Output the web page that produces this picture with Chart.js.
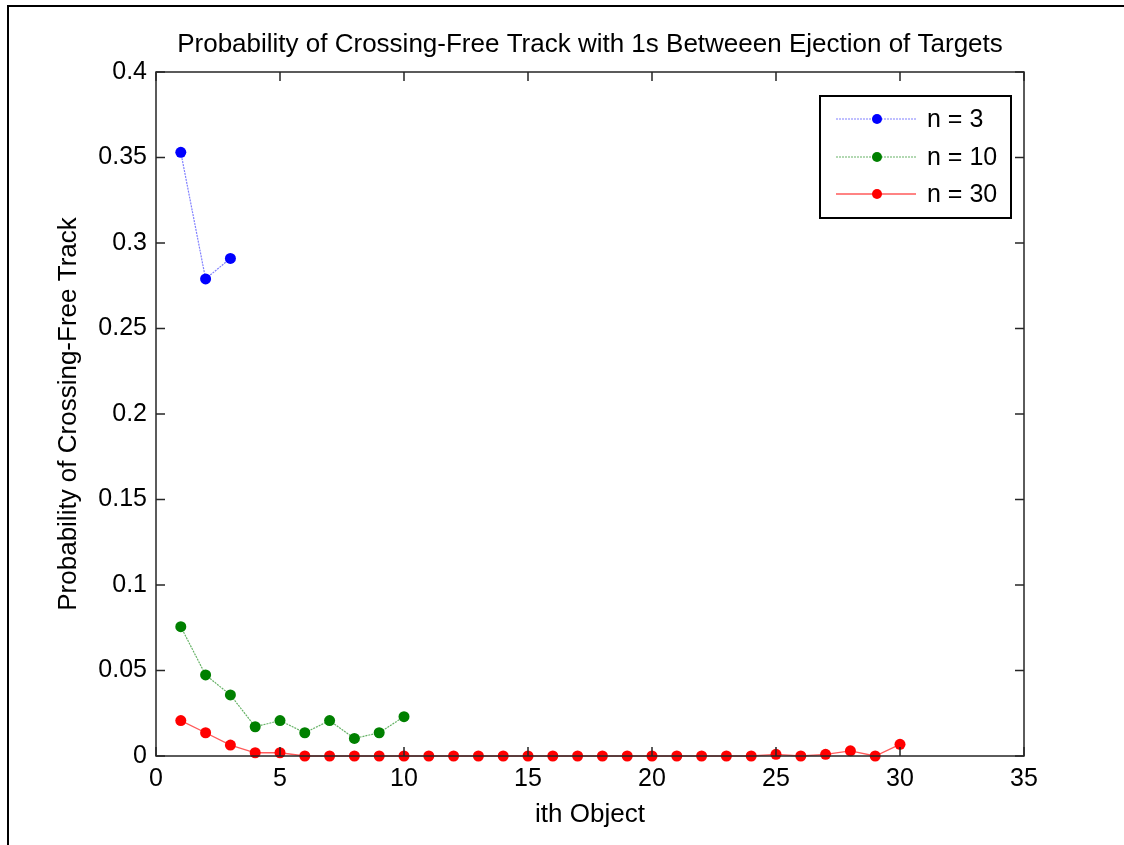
<!DOCTYPE html>
<html>
<head>
<meta charset="utf-8">
<script src="https://cdn.jsdelivr.net/npm/chart.js@4.4.1/dist/chart.umd.min.js"></script>
<style>
  html, body { margin: 0; padding: 0; background: #fff; }
  canvas { display: block; }
</style>
</head>
<body>
<canvas id="c" width="1124" height="845"></canvas>
<script>
// ---- data ----
const chartTitle = 'Probability of Crossing-Free Track with 1s Betweeen Ejection of Targets';
const xTitle = 'ith Object';
const yTitle = 'Probability of Crossing-Free Track';
const seriesLabels = ['n = 3', 'n = 10', 'n = 30'];
const xN3 = [1, 2, 3];
const yN3 = [0.353, 0.279, 0.291];
const xN10 = [1, 2, 3, 4, 5, 6, 7, 8, 9, 10];
const yN10 = [0.0756, 0.0474, 0.0357, 0.0171, 0.0207, 0.0136, 0.0207, 0.0103, 0.0136, 0.0230];
const xN30 = [1, 2, 3, 4, 5, 6, 7, 8, 9, 10, 11, 12, 13, 14, 15, 16, 17, 18, 19, 20, 21, 22, 23, 24, 25, 26, 27, 28, 29, 30];
const yN30 = [0.0207, 0.0136, 0.0064, 0.0019, 0.0019, 0, 0, 0, 0, 0, 0, 0, 0, 0, 0, 0, 0, 0, 0, 0, 0, 0, 0, 0, 0.001, 0, 0.001, 0.003, 0, 0.0068];
const xTickLabels = ['0', '5', '10', '15', '20', '25', '30', '35'];
const yTickLabels = ['0', '0.05', '0.1', '0.15', '0.2', '0.25', '0.3', '0.35', '0.4'];

const FONT = 'Liberation Sans, Arial, sans-serif';
const toPts = (xs, ys) => xs.map((x, i) => ({ x: x, y: ys[i] }));

const frameAndDecor = {
  id: 'frameAndDecor',
  afterDraw(chart) {
    const ctx = chart.ctx;
    const a = chart.chartArea;
    const sx = chart.scales.x, sy = chart.scales.y;
    ctx.save();
    // outer figure frame (top + left)
    ctx.strokeStyle = '#000';
    ctx.lineWidth = 2;
    ctx.beginPath();
    ctx.moveTo(8, 845);
    ctx.lineTo(8, 6);
    ctx.lineTo(1124, 6);
    ctx.stroke();
    // axes box
    ctx.strokeStyle = '#262626';
    ctx.lineWidth = 1.5;
    ctx.strokeRect(a.left, a.top, a.right - a.left, a.bottom - a.top);
    // inward ticks on all four sides
    ctx.lineWidth = 1.5;
    ctx.beginPath();
    sx.ticks.forEach(t => {
      const px = sx.getPixelForValue(t.value);
      ctx.moveTo(px, a.bottom); ctx.lineTo(px, a.bottom - 9);
      ctx.moveTo(px, a.top); ctx.lineTo(px, a.top + 9);
    });
    sy.ticks.forEach(t => {
      const py = sy.getPixelForValue(t.value);
      ctx.moveTo(a.left, py); ctx.lineTo(a.left + 9, py);
      ctx.moveTo(a.right, py); ctx.lineTo(a.right - 9, py);
    });
    ctx.stroke();

    // legend
    const lx = 820, ly = 96, lw = 191, lh = 122;
    ctx.fillStyle = '#fff';
    ctx.fillRect(lx, ly, lw, lh);
    ctx.strokeStyle = '#000';
    ctx.lineWidth = 2;
    ctx.strokeRect(lx, ly, lw, lh);
    const rows = [119, 157, 194];
    chart.data.datasets.forEach((ds, i) => {
      const y = rows[i];
      ctx.strokeStyle = ds.borderColor;
      ctx.lineWidth = ds.borderWidth;
      ctx.setLineDash(ds.borderDash || []);
      ctx.beginPath();
      ctx.moveTo(836, y); ctx.lineTo(916, y);
      ctx.stroke();
      ctx.setLineDash([]);
      ctx.fillStyle = ds.pointBackgroundColor;
      ctx.beginPath();
      ctx.arc(877, y, 5, 0, Math.PI * 2);
      ctx.fill();
      ctx.fillStyle = '#000';
      ctx.font = '25px ' + FONT;
      ctx.textAlign = 'left';
      ctx.textBaseline = 'middle';
      ctx.fillText(ds.label, 927, y + 1);
    });
    ctx.restore();
  }
};

new Chart(document.getElementById('c'), {
  type: 'line',
  data: {
    datasets: [
      {
        label: seriesLabels[0], data: toPts(xN3, yN3),
        borderColor: '#8080ff', borderWidth: 1.2, borderDash: [2, 1],
        pointBackgroundColor: '#0000ff', pointBorderColor: '#0000ff',
        pointRadius: 5.5, pointBorderWidth: 0, tension: 0, clip: false
      },
      {
        label: seriesLabels[1], data: toPts(xN10, yN10),
        borderColor: '#66b266', borderWidth: 1.2, borderDash: [2, 1],
        pointBackgroundColor: '#008000', pointBorderColor: '#008000',
        pointRadius: 5.5, pointBorderWidth: 0, tension: 0, clip: false
      },
      {
        label: seriesLabels[2], data: toPts(xN30, yN30),
        borderColor: '#ff5a5a', borderWidth: 1.3,
        pointBackgroundColor: '#ff0000', pointBorderColor: '#ff0000',
        pointRadius: 5.5, pointBorderWidth: 0, tension: 0, clip: false
      }
    ]
  },
  options: {
    responsive: false,
    animation: false,
    events: [],
    layout: { padding: { left: 56, right: 0, top: 0, bottom: 0 } },
    plugins: {
      legend: { display: false },
      tooltip: { enabled: false },
      title: {
        display: true, text: chartTitle, color: '#000',
        font: { family: FONT, size: 26, weight: 'normal', lineHeight: 1.2 },
        padding: { top: 29, bottom: 11.8 }
      }
    },
    scales: {
      x: {
        type: 'linear', position: 'bottom', min: 0, max: 35,
        grid: { display: false, drawTicks: false },
        border: { display: false },
        ticks: {
          stepSize: 5, padding: 8, color: '#000', maxRotation: 0,
          font: { family: FONT, size: 25 },
          callback: (v, i) => xTickLabels[i]
        },
        title: {
          display: true, text: xTitle, color: '#000',
          font: { family: FONT, size: 26, lineHeight: 1.2 },
          padding: { top: 0, bottom: 15 }
        },
        afterFit: s => { s.height = 89; }
      },
      y: {
        type: 'linear', position: 'left', min: 0, max: 0.4,
        grid: { display: false, drawTicks: false },
        border: { display: false },
        ticks: {
          stepSize: 0.05, padding: 9, color: '#000',
          font: { family: FONT, size: 25 },
          callback: (v, i) => yTickLabels[i]
        },
        title: {
          display: true, text: yTitle, color: '#000',
          font: { family: FONT, size: 26, lineHeight: 1 },
          padding: { top: 0, bottom: 0 }
        },
        afterFit: s => { s.width = 100; }
      },
      yRight: {
        type: 'linear', position: 'right', min: 0, max: 0.4,
        grid: { display: false, drawTicks: false },
        border: { display: false },
        ticks: { display: false },
        afterFit: s => { s.width = 100; }
      }
    }
  },
  plugins: [frameAndDecor]
});
</script>
</body>
</html>
